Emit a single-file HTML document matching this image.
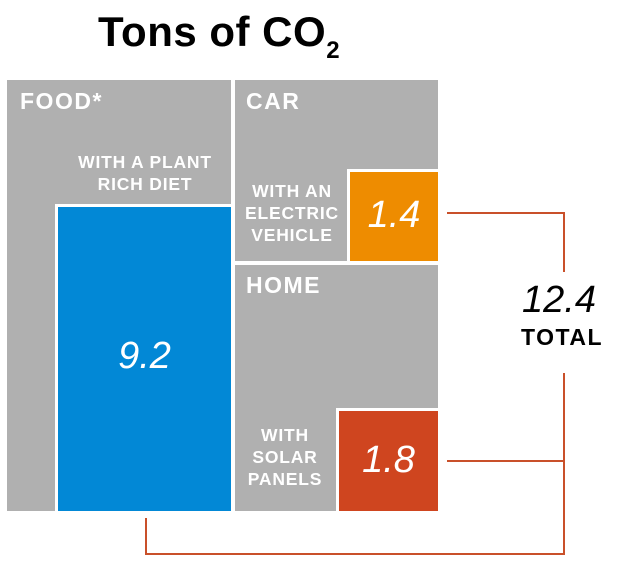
<!DOCTYPE html>
<html><head><style>
body{margin:0;background:#fff;}
.c{position:relative;width:640px;height:582px;overflow:hidden;font-family:"Liberation Sans",sans-serif;}
.a{position:absolute;}
.g{background:#b0b0b0;}
.h{color:#fff;font-weight:bold;font-size:23px;letter-spacing:1.5px;}
.s{color:#fff;font-weight:bold;font-size:17.5px;line-height:22px;text-align:center;letter-spacing:0.8px;}
.n{color:#fff;font-style:italic;font-size:38px;text-align:center;}
.l{background:#c9502a;}
.w{box-shadow:0 0 0 3px #fff;}
</style></head><body><div class="c">
<div class="a" style="left:98px;top:8px;font-size:42px;font-weight:bold;color:#000;letter-spacing:0.5px">Tons of CO<span style="font-size:24px;position:relative;top:12px;">2</span></div>
<div class="a g" style="left:7px;top:80px;width:224px;height:431px"></div>
<div class="a g" style="left:235px;top:80px;width:203px;height:181px"></div>
<div class="a g" style="left:235px;top:265px;width:203px;height:246px"></div>
<div class="a w" style="left:58px;top:207px;width:173px;height:304px;background:#0288d6"></div>
<div class="a w" style="left:350px;top:172px;width:88px;height:89px;background:#ee8c00"></div>
<div class="a w" style="left:339px;top:411px;width:99px;height:100px;background:#cf451f"></div>
<div class="a h" style="left:20px;top:88px">FOOD*</div>
<div class="a h" style="left:246px;top:88px">CAR</div>
<div class="a h" style="left:246px;top:272px">HOME</div>
<div class="a s" style="left:55px;top:151px;width:180px">WITH A PLANT<br>RICH DIET</div>
<div class="a s" style="left:237px;top:180px;width:110px">WITH AN<br>ELECTRIC<br>VEHICLE</div>
<div class="a s" style="left:240px;top:424px;width:90px">WITH<br>SOLAR<br>PANELS</div>
<div class="a n" style="left:58px;top:335px;width:173px">9.2</div>
<div class="a n" style="left:350px;top:194px;width:88px">1.4</div>
<div class="a n" style="left:339px;top:439px;width:99px">1.8</div>
<div class="a" style="left:500px;top:279px;width:118px;text-align:center;font-style:italic;font-size:38px;color:#000">12.4</div>
<div class="a" style="left:503px;top:324px;width:118px;text-align:center;font-weight:bold;font-size:23px;letter-spacing:1.5px;color:#000">TOTAL</div>
<div class="a l" style="left:447px;top:212px;width:118px;height:2px"></div>
<div class="a l" style="left:447px;top:460px;width:118px;height:2px"></div>
<div class="a l" style="left:563px;top:212px;width:2px;height:60px"></div>
<div class="a l" style="left:563px;top:373px;width:2px;height:182px"></div>
<div class="a l" style="left:145px;top:553px;width:420px;height:2px"></div>
<div class="a l" style="left:145px;top:518px;width:2px;height:37px"></div>
</div></body></html>
